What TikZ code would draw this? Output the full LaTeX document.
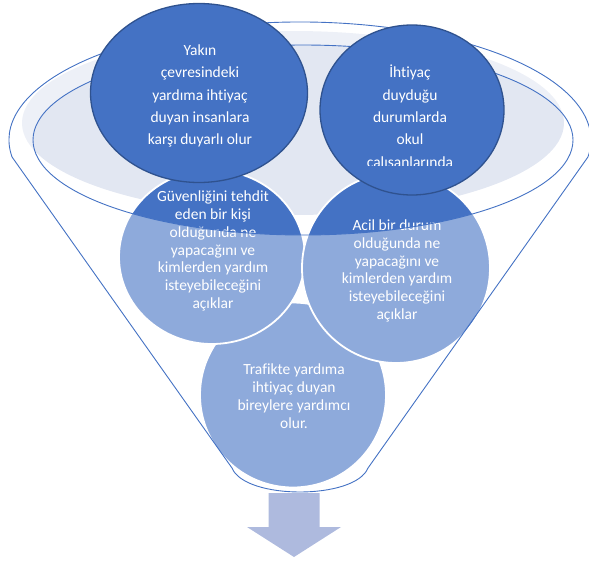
\documentclass[tikz,border=0pt]{standalone}
\usepackage{fontspec}
\setmainfont{Carlito}[Ligatures=NoCommon]
\usetikzlibrary{shapes.geometric}
\definecolor{acc}{HTML}{4472C4}
\definecolor{accdark}{HTML}{2F528F}
\definecolor{lightin}{RGB}{226,231,242}
\definecolor{arrowc}{RGB}{174,186,222}
\begin{document}
\begin{tikzpicture}[x=1pt,y=-1pt,
  topcirc/.style={ellipse, draw=accdark, line width=1.3pt, fill=acc, inner sep=0pt},
  lowcirc/.style={ellipse, draw=white, line width=1.8pt, fill=acc, inner sep=0pt},
  txt/.style={text=white, align=center, font=\fontsize{15.5}{17.8}\selectfont, inner sep=0pt},
  toptxt/.style={text=white, align=center, font=\fontsize{15.5}{22.3}\selectfont, inner sep=0pt},
  funline/.style={draw=acc, line width=0.9pt},
  funfill/.style={fill=white, fill opacity=0.4, even odd rule}]
\useasboundingbox (0,0) rectangle (589,560);
% back light ellipse
\fill[lightin] (293,123) ellipse [x radius=271, y radius=92];
% arrow
\coordinate (ar) at (294,493);
\fill[arrowc] (268.5,493) -- (319.5,493) -- (319.5,527) -- (341,527) -- (294,557) -- (247,527) -- (268.5,527) -- cycle;
% lower circles
\node[lowcirc, minimum width=186pt, minimum height=185pt] (c5) at (293,395) {};
\node[txt] (t5) at (294,396) {Trafikte yardıma\\ihtiyaç duyan\\bireylere yardımcı\\olur.};
\node[lowcirc, minimum width=186pt, minimum height=174pt] (c3) at (212,257) {};
\node[txt] (t3) at (213,251) {Güvenliğini tehdit\\eden bir kişi\\olduğunda ne\\yapacağını ve\\kimlerden yardım\\isteyebileceğini\\açıklar};
\node[lowcirc, minimum width=188pt, minimum height=190pt] (c4) at (396,268) {};
\node[txt] (t4) at (397,271) {Acil bir durum\\olduğunda ne\\yapacağını ve\\kimlerden yardım\\isteyebileceğini\\açıklar};
% funnel body overlay
\coordinate (fl) at (12.05,157);
\coordinate (bl) at (232,468);
\coordinate (br) at (368,468);
\path[funfill] (fl) arc[start angle=171.7, end angle=368.3, x radius=291, y radius=118] -- (br) .. controls (355,500) and (245,500) .. (bl) -- cycle
  (303,140) ellipse [x radius=270, y radius=95];
\draw[funline] (fl) arc[start angle=171.7, end angle=368.3, x radius=291, y radius=118] -- (br) .. controls (355,500) and (245,500) .. (bl) -- cycle;
\draw[funline] (303,140) ellipse [x radius=270, y radius=95];
% top circles
\node[topcirc, minimum width=217pt, minimum height=179pt] (c1) at (199,93) {};
\node[toptxt] (t1) at (200,96) {Yakın\\çevresindeki\\yardıma ihtiyaç\\duyan insanlara\\karşı duyarlı olur};
\node[topcirc, minimum width=184pt, minimum height=170pt] (c2) at (412,110) {};
\begin{scope}
\clip (300,0) rectangle (520,165);
\node[toptxt] (t2) at (410,117.5) {İhtiyaç\\duyduğu\\durumlarda\\okul\\çalışanlarında};
\end{scope}
\end{tikzpicture}
\end{document}
